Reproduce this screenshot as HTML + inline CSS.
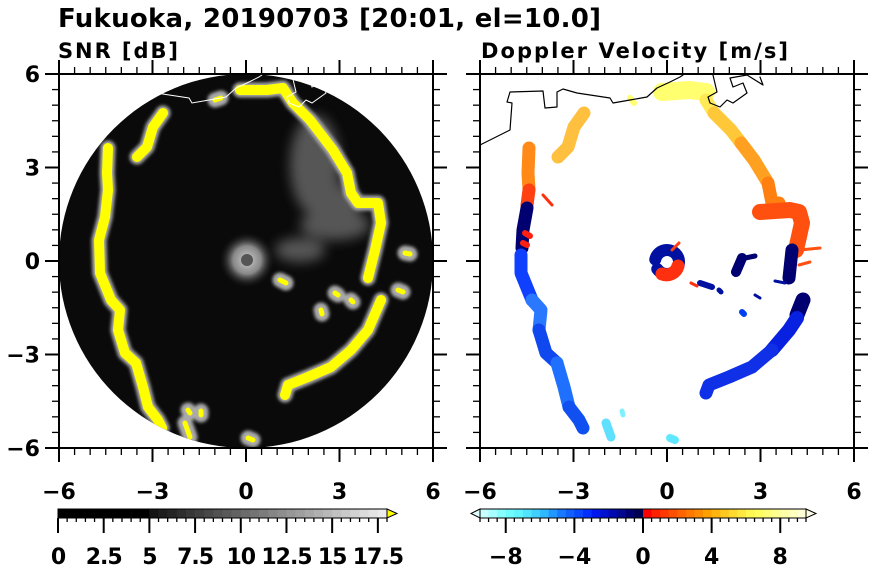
<!DOCTYPE html>
<html><head><meta charset="utf-8"><style>
body{margin:0;background:#fff}
svg{display:block}
text{font-family:"DejaVu Sans","Liberation Sans",sans-serif;font-weight:bold;fill:#000}
</style></head><body>
<svg id="s" width="870" height="570" viewBox="0 0 870 570" xmlns="http://www.w3.org/2000/svg">
<defs>
<filter id="bl" x="-50%" y="-50%" width="200%" height="200%"><feGaussianBlur stdDeviation="6"/></filter>
<filter id="bl2" x="-50%" y="-50%" width="200%" height="200%"><feGaussianBlur stdDeviation="1.5"/></filter>
<clipPath id="c1"><circle cx="246" cy="261" r="187"/></clipPath>
<clipPath id="a2"><rect x="480" y="74" width="374" height="374"/></clipPath>
<radialGradient id="halo"><stop offset="0" stop-color="#ccc"/><stop offset="0.5" stop-color="#888"/><stop offset="1" stop-color="#111" stop-opacity="0"/></radialGradient>
</defs>
<text x="58" y="27" font-size="26" textLength="543">Fukuoka, 20190703 [20:01, el=10.0]</text>
<text x="58" y="58" font-size="21" textLength="120">SNR [dB]</text>
<text x="481" y="58" font-size="21" textLength="307">Doppler Velocity [m/s]</text>

<!-- LEFT PANEL -->
<circle cx="246" cy="261" r="187" fill="#0a0a0a"/>
<g clip-path="url(#c1)">
<g filter="url(#bl)" fill="#777" opacity="0.7">
<ellipse cx="315" cy="165" rx="25" ry="50"/>
<ellipse cx="335" cy="225" rx="35" ry="15"/>
<ellipse cx="300" cy="250" rx="25" ry="12"/>
<ellipse cx="340" cy="210" rx="20" ry="25"/>
</g>
<circle cx="247" cy="260" r="28" fill="url(#halo)"/>
<circle cx="247" cy="260" r="6" fill="#555"/>
<g fill="none" stroke-linecap="round" stroke-linejoin="round">
<g stroke="#aaa" stroke-width="15" filter="url(#bl2)">
<path id="L1" d="M163,113 L153,127 L147,147 L137,157"/>
<path id="L2" d="M108,148 L107,173 L108,190 L105,217 L99,240 L100,273 L111,300 L120,310 L118,330 L125,353 L136,363 L143,387 L148,407 L158,420 L162,428"/>
<path id="L3" d="M240,90 L267,90 L283,88 L293,103 L310,120 L320,133 L333,150 L347,173 L351,193 L358,203 L378,203 L381,223 L375,250 L368,278"/>
<path id="L4" d="M381,300 L368,330 L351,350 L331,367 L308,377 L288,385 L285,395"/>
<path id="L5" d="M185,423 L190,437 M201,411 L201,415 M248,438 L253,440 M398,290 L403,292 M321,310 L322,314 M280,280 L286,283 M335,293 L338,295 M351,300 L353,302 M405,253 L410,254 M221,98 L215,100 M188,410 L190,413"/>
</g>
<g stroke="#ff0" stroke-width="10">
<use href="#L1"/><use href="#L2"/><use href="#L3"/><use href="#L4"/>
</g>
<g stroke="#ff0" stroke-width="5"><use href="#L5"/></g>
</g>
<g fill="none" stroke="#fff" stroke-width="1" id="coastL">
<path d="M59,145 L89,130 L91,103 L86,102 L89,92 L122,91 L124,108 L136,107 L136,92 L142,89 L156,93 L189,98 L192,103 L209,100 L226,97 L236,88 L249,82 L259,77 L262,75"/>
<path d="M292,75 L296,92 L287,97 L289,103 L299,107 L306,100 L312,103 L326,93 L322,83 L312,87 L309,78 L326,75 L342,85 L339,77"/>
</g>
</g>

<!-- RIGHT PANEL -->
<g clip-path="url(#a2)" fill="none" stroke-linecap="round" stroke-linejoin="round">
<g stroke-width="13">
<path d="M662,92 L690,90 L706,92" stroke="#ffff70" stroke-width="18"/>
<path d="M706,100 L714,113" stroke="#ffea55"/>
<path d="M714,113 L731,130 L741,143" stroke="#ffc838"/>
<path d="M741,143 L754,160 L768,183" stroke="#ffa020"/>
<path d="M768,183 L772,203 L779,203" stroke="#ff8010"/>
<path d="M760,212 L790,210 L799,212 L802,223 L796,250" stroke="#ff5010" stroke-width="16"/>
<path d="M792,250 L789,278" stroke="#000070"/>
<path d="M803,300 L797,315" stroke="#000070" stroke-width="15"/>
<path d="M797,318 L789,330 L772,350" stroke="#0820e0" stroke-width="14"/>
<path d="M772,350 L752,367 L729,377 L709,385 L706,393" stroke="#1030e8" stroke-width="13"/>
<path d="M584,113 L574,127 L568,147 L558,157" stroke="#ffc040"/>
<path d="M529,148 L528,173 L529,190" stroke="#ff8a18"/>
<path d="M529,190 L527,205" stroke="#ff4010"/>
<path d="M527,208 L523,230 L522,248" stroke="#000070"/>
<path d="M521,255 L521,273 L532,300" stroke="#1040ff"/>
<path d="M532,300 L541,310 L539,330" stroke="#2a78ff"/>
<path d="M539,330 L546,353 L557,363" stroke="#1048f0"/>
<path d="M557,363 L564,387 L569,407" stroke="#2070ff"/>
<path d="M569,407 L579,420 L583,428" stroke="#1050f0"/>
<path d="M606,423 L611,437" stroke="#60e0ff" stroke-width="9"/>
<path d="M670,438 L675,440" stroke="#60e8ff" stroke-width="8"/>
<path d="M622,411 L623,415" stroke="#80f0ff" stroke-width="5"/>
</g>
<path d="M525,233 L530,236 M523,243 L527,245" stroke="#ff2010" stroke-width="6"/>
<circle cx="667" cy="262" r="12" stroke="#0010a0" stroke-width="12" stroke-dasharray="30 10 36 0"/>
<path d="M662,274 A12,12 0 0 0 678,266" stroke="#ff3010" stroke-width="13"/>
<path d="M672,250 L679,243" stroke="#ff4010" stroke-width="3"/>
<path d="M742,258 L736,272" stroke="#000070" stroke-width="10"/>
<path d="M745,258 L755,256" stroke="#000070" stroke-width="5"/>
<path d="M700,283 L712,287" stroke="#0010a0" stroke-width="6"/>
<path d="M691,283 L697,286" stroke="#ff3010" stroke-width="3"/>
<path d="M719,290 L721,292" stroke="#0010a0" stroke-width="5"/>
<path d="M775,281 L785,283" stroke="#0010a0" stroke-width="3"/>
<path d="M742,312 L744,314" stroke="#0040f0" stroke-width="6"/>
<path d="M755,295 L760,298" stroke="#0010a0" stroke-width="3"/>
<path d="M630,98 L634,103" stroke="#ffff70" stroke-width="6"/>
<path d="M799,265 L810,262 M800,250 L820,248" stroke="#ff5010" stroke-width="3"/>
<path d="M543,195 L552,205" stroke="#ff3010" stroke-width="3"/>
<g stroke="#000" stroke-width="1.2">
<path d="M480,145 L510,130 L512,103 L507,102 L510,92 L543,91 L545,108 L557,107 L557,92 L563,89 L577,93 L610,98 L613,103 L630,100 L647,97 L657,88 L670,82 L680,77 L683,75"/>
<path d="M713,75 L717,92 L708,97 L710,103 L720,107 L727,100 L733,103 L747,93 L743,83 L733,87 L730,78 L747,75 L763,85 L760,77"/>
</g>
</g>
<g id="ax"></g>
</svg>
<script>
(function(){
var NS="http://www.w3.org/2000/svg",g=document.getElementById('ax');
function el(t,a,txt){var e=document.createElementNS(NS,t);for(var k in a)e.setAttribute(k,a[k]);if(txt!==undefined)e.textContent=txt;g.appendChild(e);return e;}
function line(x1,y1,x2,y2,w){el('line',{x1:x1,y1:y1,x2:x2,y2:y2,stroke:'#000','stroke-width':w||1.6});}
[59,480].forEach(function(L){
 var T=74,S=374,R=L+S,B=T+S;
 el('rect',{x:L,y:T,width:S,height:S,fill:'none',stroke:'#000','stroke-width':2});
 for(var i=0;i<=24;i++){
  var p=i*S/24,maj=(i%6==0),len=maj?14:7,w=maj?2:1.3;
  line(L+p,T,L+p,T-len,w); line(L+p,B,L+p,B+len,w);
  line(L,T+p,L-len,T+p,w); line(R,T+p,R+len,T+p,w);
 }
 var labs=['−6','−3','0','3','6'];
 for(var j=0;j<5;j++){
  el('text',{x:L+j*S/4,y:499,'font-size':22,'text-anchor':'middle'},labs[j]);
  if(L==59) el('text',{x:40,y:T+S-j*S/4+8,'font-size':22,'text-anchor':'end'},labs[j]);
 }
});
var x0=58,x1=387,n=36,w=(x1-x0)/n,y0=509,h=9;
for(var i=0;i<n;i++){var v=i*0.5,c;
 if(v<5)c=0;else c=Math.round(20+(v-5)/13*225);
 el('rect',{x:x0+i*w,y:y0,width:w+0.3,height:h,fill:'rgb('+c+','+c+','+c+')'});}
el('polygon',{points:x1+','+y0+' '+(x1+10)+','+(y0+h/2)+' '+x1+','+(y0+h),fill:'#ff0',stroke:'#000','stroke-width':1});
el('rect',{x:x0,y:y0,width:x1-x0,height:h,fill:'none',stroke:'#000','stroke-width':1});
for(var i=0;i<=n;i++){var maj=(i%5==0);line(x0+i*w,y0+h,x0+i*w,maj?533:522,maj?2:1.3);}
var ll=['0','2.5','5','7.5','10','12.5','15','17.5'];
for(var j=0;j<8;j++)el('text',{x:x0+j*5*w,y:564,'font-size':22,'text-anchor':'middle','letter-spacing':'-1'},ll[j]);
var cols=['#c8ffff','#a8ffff','#88ffff','#70fcff','#60f4ff','#50e4ff','#40d0ff','#30b8ff','#2098ff','#1878ff','#1060ff','#0848ff','#0430ff','#0018f0','#0010d0','#0008b0','#000890','#000070','#000050',
'#ff0000','#ff2000','#ff3800','#ff5000','#ff6400','#ff7800','#ff8c00','#ffa000','#ffb410','#ffc820','#ffd830','#ffe840','#fff850','#ffff60','#ffff78','#ffff90','#ffffa8','#ffffc0','#ffffd8'];
x0=480;x1=806;n=38;w=(x1-x0)/n;
for(var i=0;i<n;i++)el('rect',{x:x0+i*w,y:y0,width:w+0.3,height:h,fill:cols[i]});
el('polygon',{points:x0+','+y0+' '+(x0-9)+','+(y0+h/2)+' '+x0+','+(y0+h),fill:'#e0ffff',stroke:'#000','stroke-width':1});
el('polygon',{points:x1+','+y0+' '+(x1+10)+','+(y0+h/2)+' '+x1+','+(y0+h),fill:'#ffffe8',stroke:'#000','stroke-width':1});
el('rect',{x:x0,y:y0,width:x1-x0,height:h,fill:'none',stroke:'#000','stroke-width':1});
for(var i=0;i<=n;i++){var v=-9.5+i*0.5,maj=(Math.abs(v%4)<1e-6);line(x0+i*w,y0+h,x0+i*w,maj?533:522,maj?2:1.3);}
var rl=['−8','−4','0','4','8'];
for(var j=0;j<5;j++)el('text',{x:643+(j-2)*68.6,y:564,'font-size':22,'text-anchor':'middle'},rl[j]);
})();
</script>
</body></html>
